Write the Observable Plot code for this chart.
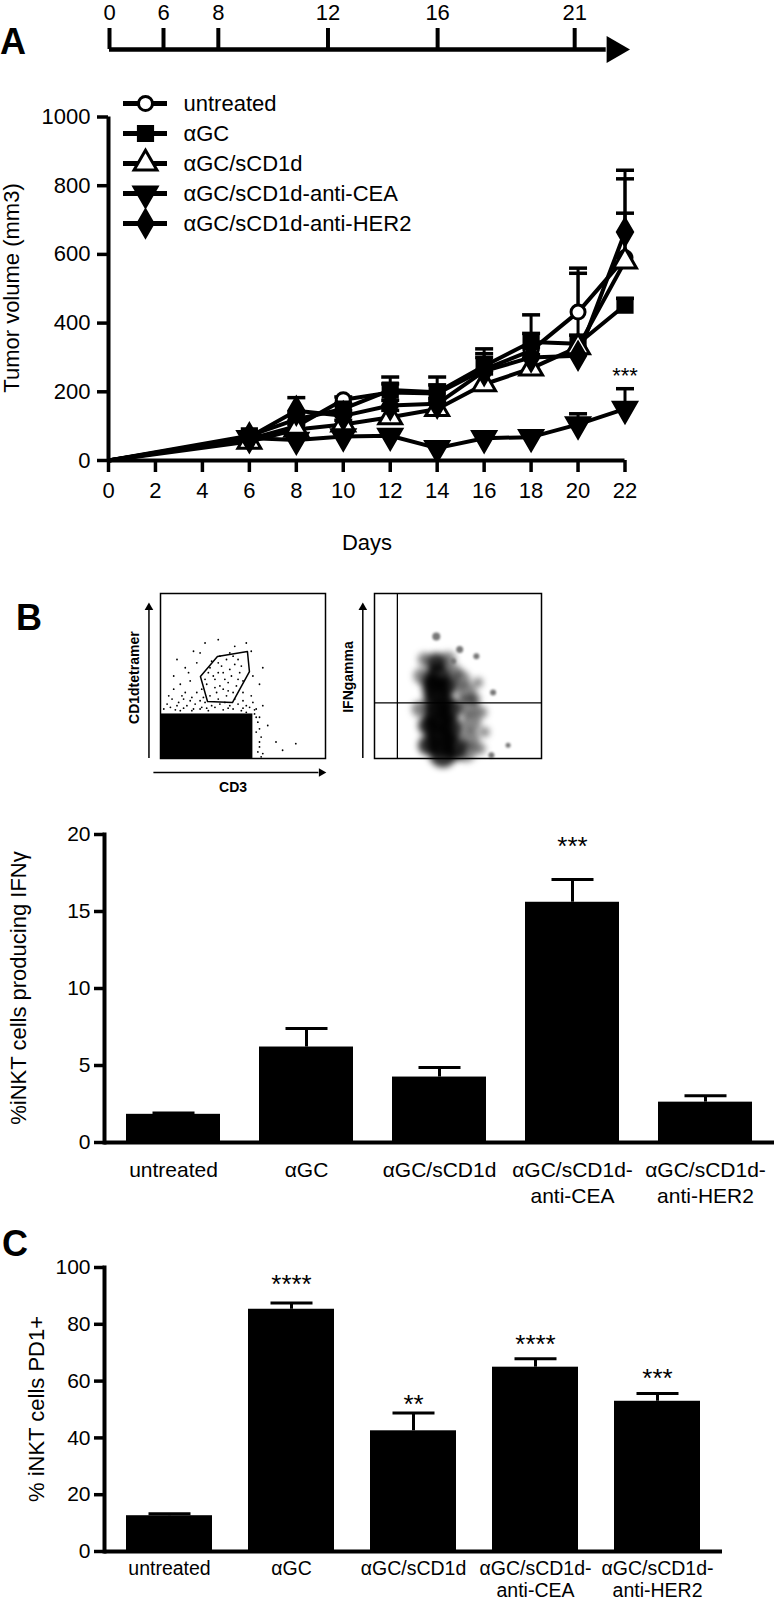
<!DOCTYPE html>
<html><head><meta charset="utf-8">
<script src="https://cdn.jsdelivr.net/npm/d3@7"></script>
<script src="https://cdn.jsdelivr.net/npm/@observablehq/plot@0.6"></script>
<style>
html,body{margin:0;padding:0;background:#fff;}
#page{position:relative;width:774px;height:1603px;overflow:hidden;background:#fff;font-family:"Liberation Sans",Arial,Helvetica,sans-serif;color:#000;}
#page svg{position:absolute;left:0;background:transparent !important;overflow:visible;max-width:none;}
.lbl{position:absolute;white-space:nowrap;line-height:1;transform:translate(-50%,-50%);}
.rot{transform:translate(-50%,-50%) rotate(-90deg);}
.panel{font-weight:bold;font-size:36px;transform:none;}
</style></head><body><div id="page"></div>
<script>
// ---------------- DATA ----------------
// Timeline (schematic, days) — not to scale: days 0-6 are compressed
const tlDays = [0, 6, 8, 12, 16, 21];
const tlBreaks = [0, 6, 23];          // piecewise schematic axis breakpoints (days)
const tlBreakPos = [0, 54, 520];      // relative positions of the breakpoints
const tlEndDay = 22.45;

// Panel A: tumor volume (mm3)
const seriesNamesA = ["untreated", "αGC", "αGC/sCD1d", "αGC/sCD1d-anti-CEA", "αGC/sCD1d-anti-HER2"];
const daysA = [0, 6, 8, 10, 12, 14, 16, 18, 20, 22];
const untreatedA = [0, 62, 100, 177, 198, 195, 265, 320, 432, 590];
const aGCA       = [0, 72, 120, 150, 205, 199, 275, 345, 340, 452];
const sCD1dA     = [0, 55, 90, 105, 126, 150, 222, 268, 330, 580];
const antiCEAA   = [0, 65, 60, 70, 72, 36, 65, 68, 105, 150];
const antiHER2A  = [0, 68, 145, 130, 160, 165, 260, 300, 305, 665];
const untreatedSemA = [0, 8, 15, 8, 25, 25, 46, 50, 128, 230];
const aGCSemA       = [0, 8, 18, 15, 38, 44, 50, 79, 25, 20];
const sCD1dSemA     = [0, 10, 15, 12, 20, 20, 30, 40, 215, 265];
const antiCEASemA   = [0, 5, 8, 8, 8, 6, 8, 8, 31, 59];
const antiHER2SemA  = [0, 10, 38, 15, 15, 15, 40, 30, 20, 55];
const xTicksA = [0, 2, 4, 6, 8, 10, 12, 14, 16, 18, 20, 22];
const yTicksA = [0, 200, 400, 600, 800, 1000];
const starsA = [{day: 22, value: 262, label: "***"}];

// Panel B flow plots (arbitrary 0-100 units)
const gateL = [[34.5,61.8],[52.7,64.8],[53.9,52.7],[43.6,33.9],[28.5,34.5],[24.2,49.7],[34.5,61.8]];
const denseL = [{x1: 0, x2: 56, y1: 0, y2: 27}];
const eventsL = [
  [30,55],[35,58],[40,60],[45,57],[48,52],[43,50],[38,52],[33,48],[28,45],[36,44],[41,46],[46,44],[30,38],[35,36],[40,38],[44,40],[38,42],[32,50],[47,60],[25,42],
  [37,56],[42,54],[34,40],[39,34],[45,36],[29,52],[50,47],[26,37],[31,59],[44,62],[49,56],[36,62],[42,64],[27,48],[33,43],[47,48],[50,40],[39,48],[35,52],[41,41],
  [12,45],[15,40],[18,35],[10,32],[20,30],[25,31],[50,35],[55,38],[58,30],[52,28],[62,32],[60,25],[65,20],[70,10],[74,5],[82,9],[15,55],[10,60],[20,65],[27,70],[35,72],[45,68],[55,65],[8,50],[5,38],[22,58],[60,45],[56,50],[62,55],[18,47],[14,36],[22,40],[8,42],[17,52],[24,64],[52,70],
  [2,30],[6,31],[9,29.5],[14,30.5],[19,29],[24,30],[29,29],[33,31],[38,29.5],[44,30],[49,29],[54,31],[57,27],[59,22],[58,16],[60,10],[59,4],[61,1],
  [4,33],[11,34],[16,32],[21,33],[27,34],[31,32],[36,33],[42,32],[47,33],[52,32],[7,36],[13,38],[19,37],[24,35],[56,34],[12,29],[28,30.5],[41,30.5],[50,30.5],[57,29.5],[58,25],[60,18],[61,13],[60,7],[62,3]];
const blobCoreR = [[37,58,10],[38,50,13],[37,42,14],[38,34,15],[38,26,15],[39,18,15],[40,10,15],[41,3,14],[34,46,10],[44,44,10],[45,30,12],[46,18,12],[48,6,12],[32,20,10],[32,8,10]];
const blobHaloR = [[52,48,9],[55,40,10],[56,32,11],[58,22,10],[57,12,10],[55,4,10],[28,50,8],[27,30,8],[30,60,7],[44,60,8],[48,52,8],[60,36,6],[62,46,5],[64,28,6],[66,16,5],[63,6,6]];
const eventsR = [[37,74,4],[51,66,3.5],[47,59,3],[71,40,3],[80,8,2.5],[70,2,3],[61,62,3]];
const gateLinesR = {vx: 13.7, hy: 33.7};

// Panel B bars: % iNKT producing IFNγ
const catsBar = ["untreated", "αGC", "αGC/sCD1d", "αGC/sCD1d-anti-CEA", "αGC/sCD1d-anti-HER2"];
const labelsBar = ["untreated", "αGC", "αGC/sCD1d", "αGC/sCD1d-\nanti-CEA", "αGC/sCD1d-\nanti-HER2"];
const ifngB = [1.83, 6.2, 4.25, 15.6, 2.62];
const ifngSemB = [0.08, 1.2, 0.62, 1.48, 0.42];
const ifngStarsB = ["", "", "", "***", ""];
const ifngStarYB = [null, null, null, 19.6, null];
const yTicksB = [0, 5, 10, 15, 20];

// Panel C bars: % iNKT PD1+
const pd1C = [12.6, 85.3, 42.5, 64.9, 52.9];
const pd1SemC = [0.7, 2.2, 6.3, 3.0, 2.7];
const pd1StarsC = ["", "****", "**", "****", "***"];
const pd1StarYC = [null, 96, 54, 75, 63.2];
const yTicksC = [0, 20, 40, 60, 80, 100];

// ---------------- HELPERS ----------------
const page = document.getElementById("page");
const FONT = '"Liberation Sans", Arial, Helvetica, sans-serif';
const style = {fontFamily: FONT, fontSize: "21px", color: "black", background: "transparent", overflow: "visible"};
function place(svg, top) { svg.style.top = top + "px"; svg.style.left = "0px"; page.appendChild(svg); }
function label(text, x, y, opts = {}) {
  const d = document.createElement("div");
  d.className = "lbl" + (opts.rot ? " rot" : "") + (opts.panel ? " panel" : "");
  d.textContent = text;
  d.style.left = x + "px"; d.style.top = y + "px";
  if (opts.size) d.style.fontSize = opts.size + "px";
  if (opts.bold) d.style.fontWeight = "bold";
  page.appendChild(d);
}
const capSym = w => ({draw(ctx) { ctx.moveTo(-w, 0); ctx.lineTo(w, 0); }});
const symStyles = [
  {symbol: "circle", fill: "white", r: 7},
  {symbol: "square", fill: "black", r: 8},
  {symbol: "triangle", fill: "white", r: 8.5},
  {symbol: "triangle", fill: "black", r: 8.5, rotate: 180},
  {symbol: "diamond", fill: "black", r: 8}
];

// ---------------- TIMELINE ----------------
const tlScale = d3.scaleLinear().domain(tlBreaks).range(tlBreakPos);
place(Plot.plot({
  width: 774, height: 60, marginTop: 0, marginBottom: 0, marginLeft: 0, marginRight: 0,
  style,
  x: {domain: [tlBreakPos[0], tlBreakPos[tlBreakPos.length - 1]], range: [109, 629], transform: tlScale, axis: null},
  y: {domain: [0, 1], range: [49, 28], axis: null},
  marks: [
    Plot.ruleY([0], {x1: 0, x2: tlEndDay - 0.3, strokeWidth: 4.5}),
    Plot.ruleX(tlDays, {x: d => d, y1: 0, y2: 1, strokeWidth: 4}),
    Plot.text(tlDays, {x: d => d, y: 1, text: d => String(d), dy: -16, fontSize: 22}),
    Plot.dot([tlEndDay], {x: d => d, y: 0, symbol: "triangle", r: 10, rotate: 90, fill: "black"})
  ]
}), 0);

// ---------------- PANEL A ----------------
const valsA = [untreatedA, aGCA, sCD1dA, antiCEAA, antiHER2A];
const semsA = [untreatedSemA, aGCSemA, sCD1dSemA, antiCEASemA, antiHER2SemA];
const rowsA = [];
seriesNamesA.forEach((s, k) => daysA.forEach((d, i) => rowsA.push({series: s, k, day: d, value: valsA[k][i], top: valsA[k][i] + semsA[k][i]})));
const ptsA = rowsA.filter(d => d.day > 0);

place(Plot.plot({
  width: 774, height: 560, marginTop: 116.5, marginBottom: 100, marginLeft: 108, marginRight: 149.5,
  style,
  x: {domain: [0, 22]},
  y: {domain: [0, 1000]},
  marks: [
    Plot.ruleX(ptsA, {x: "day", y1: "value", y2: "top", strokeWidth: 3}),
    Plot.dot(ptsA, {x: "day", y: "top", symbol: capSym(9), fill: "none", stroke: "black", strokeWidth: 3.5}),
    Plot.line(rowsA, {x: "day", y: "value", z: "series", stroke: "black", strokeWidth: 4}),
    ...symStyles.map((st, k) => Plot.dot(ptsA.filter(d => d.k === k), {x: "day", y: "value", ...st, stroke: "black", strokeWidth: 3})),
    Plot.ruleY([0], {strokeWidth: 4}),
    Plot.ruleX([0], {strokeWidth: 4}),
    Plot.axisX({ticks: xTicksA, tickSize: 12, tickPadding: 10, strokeWidth: 3.5, tickFormat: d3.format("d"), label: null, fontSize: 22}),
    Plot.axisY({ticks: yTicksA, tickSize: 11, tickPadding: 7, strokeWidth: 3.5, tickFormat: d3.format("d"), label: null, fontSize: 22}),
    Plot.text(starsA, {x: "day", y: "value", text: "label", fontSize: 22, lineAnchor: "bottom", dy: 12})
  ]
}), 0);

// Legend A
place(Plot.plot({
  width: 774, height: 260, marginTop: 0, marginBottom: 0, marginLeft: 0, marginRight: 0,
  style,
  x: {domain: [0, 1], range: [123, 167], axis: null},
  y: {type: "point", domain: seriesNamesA, range: [87, 238], axis: null},
  marks: [
    Plot.ruleY(seriesNamesA, {y: d => d, x1: 0, x2: 1, strokeWidth: 5}),
    ...symStyles.map((st, k) => Plot.dot([seriesNamesA[k]], {x: 0.5, y: d => d, ...st, stroke: "black", strokeWidth: 3})),
    Plot.text(seriesNamesA, {x: 1, y: d => d, text: d => d, textAnchor: "start", dx: 16, fontSize: 22})
  ]
}), 0);

label("A", 0, 24, {panel: true});
label("Tumor volume (mm3)", 12, 288, {rot: true, size: 22});
label("Days", 367, 543, {size: 22});

// ---------------- PANEL B: flow plots ----------------
place(Plot.plot({
  width: 774, height: 220, marginTop: 13, marginBottom: 42, marginLeft: 160, marginRight: 449,
  style,
  x: {domain: [0, 100], axis: null},
  y: {domain: [0, 100], axis: null},
  marks: [
    Plot.rect(denseL, {x1: "x1", x2: "x2", y1: "y1", y2: "y2", fill: "black"}),
    Plot.dot(eventsL, {x: d => d[0], y: d => d[1], r: 0.9, fill: "black"}),
    Plot.line(gateL, {x: d => d[0], y: d => d[1], stroke: "black", strokeWidth: 1.5}),
    Plot.frame({stroke: "black", strokeWidth: 1.5}),
    Plot.ruleX([-7], {y1: 0, y2: 90, strokeWidth: 1.5}),
    Plot.dot([-7], {x: d => d, y: 91.5, symbol: "triangle", r: 3.2, fill: "black"}),
    Plot.ruleY([-8.5], {x1: -4, x2: 96, strokeWidth: 1.5}),
    Plot.dot([-8.5], {x: 97.5, y: d => d, symbol: "triangle", r: 3.2, rotate: 90, fill: "black"}),
    Plot.text(["CD3"], {x: 44, y: -17.5, text: d => d, fontSize: 14, fontWeight: "bold"}),
    Plot.text(["CD1dtetramer"], {x: -16, y: 49, text: d => d, fontSize: 14, fontWeight: "bold", rotate: -90})
  ]
}), 580);

place(Plot.plot({
  width: 774, height: 220, marginTop: 13, marginBottom: 42, marginLeft: 374, marginRight: 233,
  style,
  x: {domain: [0, 100], axis: null},
  y: {domain: [0, 100], axis: null},
  r: {type: "identity"},
  marks: [
    Plot.dot(blobHaloR, {x: d => d[0], y: d => d[1], r: d => d[2], fill: "#222", fillOpacity: 0.55, imageFilter: "blur(3px)"}),
    Plot.dot(blobCoreR, {x: d => d[0], y: d => d[1], r: d => d[2], fill: "#000", fillOpacity: 0.8, imageFilter: "blur(3px)"}),
    Plot.dot(eventsR, {x: d => d[0], y: d => d[1], r: d => d[2], fill: "#777", imageFilter: "blur(1px)"}),
    Plot.ruleX([gateLinesR.vx], {strokeWidth: 1.3}),
    Plot.ruleY([gateLinesR.hy], {strokeWidth: 1.3}),
    Plot.frame({stroke: "black", strokeWidth: 1.5}),
    Plot.ruleX([-7], {y1: 0, y2: 90, strokeWidth: 1.5}),
    Plot.dot([-7], {x: d => d, y: 91.5, symbol: "triangle", r: 3.2, fill: "black"}),
    Plot.text(["IFNgamma"], {x: -15.5, y: 49.4, text: d => d, fontSize: 14, fontWeight: "bold", rotate: -90})
  ]
}), 580);

label("B", 16, 600, {panel: true});

// ---------------- Bar helper ----------------
function barChart({vals, sems, stars, starY, yDomain, yTicks, height, mt, mb, mr, pi, po, fs, lh, pad}) {
  const data = catsBar.map((c, i) => ({cat: c, value: vals[i], top: vals[i] + sems[i], star: stars[i], sy: starY[i]}));
  return Plot.plot({
    width: 774, height, marginTop: mt, marginBottom: mb, marginLeft: 104, marginRight: mr,
    style,
    x: {domain: catsBar, paddingInner: pi, paddingOuter: po},
    y: {domain: yDomain},
    marks: [
      Plot.ruleX(data, {x: "cat", y1: "value", y2: "top", strokeWidth: 3}),
      Plot.dot(data, {x: "cat", y: "top", symbol: capSym(21), fill: "none", stroke: "black", strokeWidth: 3}),
      Plot.barY(data, {x: "cat", y: "value", fill: "black"}),
      Plot.ruleY([0], {strokeWidth: 4}),
      Plot.frame({anchor: "left", strokeWidth: 4}),
      Plot.axisY({ticks: yTicks, tickSize: 10, tickPadding: 4, strokeWidth: 3.5, tickFormat: d3.format("d"), label: null, fontSize: 21}),
      Plot.axisX({tickSize: 0, tickPadding: pad, tickFormat: d => labelsBar[catsBar.indexOf(d)], label: null, fontSize: fs, lineHeight: lh}),
      Plot.text(data.filter(d => d.star), {x: "cat", y: "sy", text: "star", fontSize: 26, lineAnchor: "bottom", dy: 14.5})
    ]
  });
}

place(barChart({vals: ifngB, sems: ifngSemB, stars: ifngStarsB, starY: ifngStarYB, yDomain: [0, 20], yTicks: yTicksB,
  height: 420, mt: 34, mb: 78, mr: 0, pi: 0.296, po: 0.157, fs: 21, lh: 1.24, pad: 16}), 800);
label("%iNKT cells producing IFNγ", 19, 988, {rot: true, size: 22});

place(barChart({vals: pd1C, sems: pd1SemC, stars: pd1StarsC, starY: pd1StarYC, yDomain: [0, 100], yTicks: yTicksC,
  height: 373, mt: 37, mb: 52, mr: 52, pi: 0.295, po: 0.165, fs: 19.5, lh: 1.08, pad: 9}), 1230);
label("C", 2, 1226, {panel: true});
label("% iNKT cells PD1+", 37, 1409, {rot: true, size: 22});
</script></body></html>
